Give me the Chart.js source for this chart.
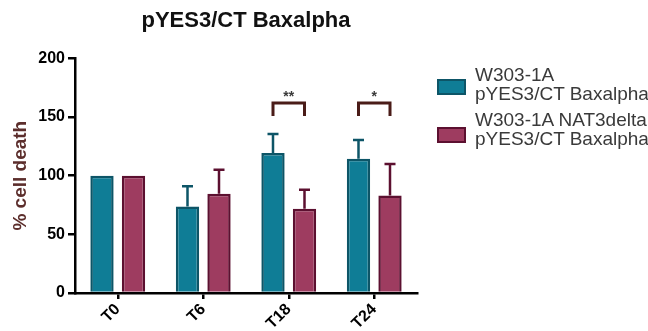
<!DOCTYPE html>
<html><head><meta charset="utf-8">
<script src="https://cdn.jsdelivr.net/npm/chart.js@4"></script>
<style>
html,body{margin:0;padding:0;background:#fff;}
#wrap{position:relative;width:648px;height:331px;}
canvas{position:absolute;left:0;top:0;}
.leg{position:absolute;left:437px;font-family:"Liberation Sans",Arial,sans-serif;font-size:19px;line-height:19px;color:#3a3a3a;}
.leg .box{position:absolute;left:0;width:25px;height:12px;border:2px solid;}
.leg .txt{position:absolute;left:38px;white-space:nowrap;}
</style></head><body>
<div id="wrap">
<canvas id="c" width="648" height="331"></canvas>
<div class="leg" style="top:0">
  <div class="box" style="top:79px;background:#0f7d96;border-color:#0d5567"></div>
  <div class="txt" style="top:65px">W303-1A<br>pYES3/CT Baxalpha</div>
  <div class="box" style="top:127px;background:#9e3c60;border-color:#5c1030"></div>
  <div class="txt" style="top:110px">W303-1A NAT3delta<br>pYES3/CT Baxalpha</div>
</div>
</div>
<script>
const categories = ["T0", "T6", "T18", "T24"];
const seriesNames = ["W303-1A pYES3/CT Baxalpha", "W303-1A NAT3delta pYES3/CT Baxalpha"];
const wildType = [100, 73.8, 119.4, 114.5];
const wildTypeErr = [0, 17.1, 16.2, 16.0];
const nat3delta = [100, 84.6, 71.8, 83.2];
const nat3deltaErr = [0, 20.4, 16.2, 26.8];
const significance = [null, null, "**", "*"];
const bracketTop = 162;
const bracketBottom = 151;
const yTicks = [0, 50, 100, 150, 200];

const errs = [wildTypeErr, nat3deltaErr];
const FONT = '"Liberation Sans", Arial, sans-serif';

const errorBarPlugin = {
  id: 'errorBars',
  afterDatasetsDraw(chart) {
    const ctx = chart.ctx;
    const y = chart.scales.y;
    chart.data.datasets.forEach((ds, di) => {
      const meta = chart.getDatasetMeta(di);
      meta.data.forEach((bar, i) => {
        const e = errs[di][i];
        if (!e) return;
        const top = y.getPixelForValue(ds.data[i] + e);
        ctx.save();
        ctx.strokeStyle = ds.borderColor;
        ctx.lineWidth = 2.5;
        ctx.beginPath();
        ctx.moveTo(bar.x, bar.y);
        ctx.lineTo(bar.x, top);
        ctx.moveTo(bar.x - 5.5, top);
        ctx.lineTo(bar.x + 5.5, top);
        ctx.stroke();
        ctx.restore();
      });
    });
  }
};

const sigPlugin = {
  id: 'sig',
  afterDatasetsDraw(chart) {
    const ctx = chart.ctx;
    const y = chart.scales.y;
    const m0 = chart.getDatasetMeta(0), m1 = chart.getDatasetMeta(1);
    significance.forEach((s, i) => {
      if (!s) return;
      const x0 = m0.data[i].x, x1 = m1.data[i].x;
      const yt = y.getPixelForValue(bracketTop), yb = y.getPixelForValue(bracketBottom);
      ctx.save();
      ctx.strokeStyle = '#4a1c18';
      ctx.lineWidth = 3;
      ctx.beginPath();
      ctx.moveTo(x0, yb); ctx.lineTo(x0, yt); ctx.lineTo(x1, yt); ctx.lineTo(x1, yb);
      ctx.stroke();
      ctx.fillStyle = '#3a3a3a';
      ctx.font = 'bold 14px ' + FONT;
      ctx.textAlign = 'center';
      ctx.textBaseline = 'middle';
      ctx.fillText(s, (x0 + x1) / 2, yt - 6);
      ctx.restore();
    });
  }
};

new Chart(document.getElementById('c'), {
  type: 'bar',
  data: {
    labels: categories,
    datasets: [
      { label: seriesNames[0], data: wildType, backgroundColor: '#0f7d96', borderColor: '#0d5567', borderWidth: 2.5,
        categoryPercentage: 0.737, barPercentage: 0.74 },
      { label: seriesNames[1], data: nat3delta, backgroundColor: '#9e3c60', borderColor: '#5c1030', borderWidth: 2.5,
        categoryPercentage: 0.737, barPercentage: 0.74 }
    ]
  },
  options: {
    responsive: false,
    animation: false,
    layout: { padding: { left: 0, right: 231, top: 0, bottom: 0 } },
    plugins: {
      legend: { display: false },
      tooltip: { enabled: false },
      title: {
        display: true, text: 'pYES3/CT Baxalpha', fullSize: false,
        color: '#111', font: { family: FONT, size: 22, weight: 'bold' },
        padding: { top: 8, bottom: 24 }
      }
    },
    scales: {
      x: {
        offset: true,
        grid: { display: true, offset: false, drawOnChartArea: false, drawTicks: true, tickLength: 6, color: '#000', lineWidth: 2.5 },
        border: { display: true, color: '#000', width: 2.5 },
        ticks: { color: '#000', minRotation: 45, maxRotation: 45, padding: 1,
          font: { family: FONT, size: 16, weight: 'bold' } },
        afterFit(s) { s.height = 38; }
      },
      y: {
        min: 0, max: 200,
        afterBuildTicks(s) { s.ticks = yTicks.map(v => ({ value: v })); },
        grid: { display: true, drawOnChartArea: false, drawTicks: true, tickLength: 7, color: '#000', lineWidth: 2.5 },
        border: { display: true, color: '#000', width: 2.5 },
        ticks: { color: '#000', padding: 3,
          font: { family: FONT, size: 16, weight: 'bold' } },
        title: { display: true, text: '% cell death', color: '#5c2e2c', padding: { top: 9, bottom: 0 },
          font: { family: FONT, size: 19, weight: 'bold' } },
        afterFit(s) { s.width = 75; }
      }
    }
  },
  plugins: [errorBarPlugin, sigPlugin]
});
</script>
</body></html>
